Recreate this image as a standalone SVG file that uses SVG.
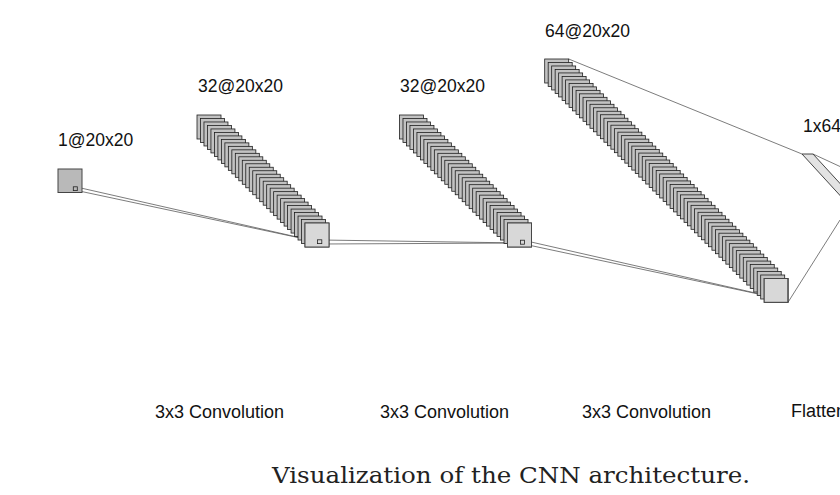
<svg xmlns="http://www.w3.org/2000/svg" width="840" height="495" viewBox="0 0 840 495">
<style>
.fm{fill:#c2c2c2;stroke:#1e1e1e;stroke-width:0.8}
.front{fill:#d8d8d8;stroke:#474747;stroke-width:1}
.inp{fill:#b9b9b9;stroke:#444;stroke-width:1}
.ker{fill:none;stroke:#222;stroke-width:0.8}
.con{fill:none;stroke:#5a5a5a;stroke-width:0.8}
.lbl{font-family:"Liberation Sans",Arial,sans-serif;font-size:17.5px;fill:#111}
.op{font-family:"Liberation Sans",Arial,sans-serif;font-size:18px;fill:#111}
.cap{font-family:"DejaVu Serif","Liberation Serif",serif;font-size:23px;fill:#222}
</style>
<defs>
<rect id="r" width="24" height="24" class="fm"/>
<g id="s2"><use href="#r"/><use href="#r" x="3.4839" y="3.4839"/></g>
<g id="s4"><use href="#s2"/><use href="#s2" x="6.9677" y="6.9677"/></g>
<g id="s8"><use href="#s4"/><use href="#s4" x="13.9355" y="13.9355"/></g>
<g id="s16"><use href="#s8"/><use href="#s8" x="27.871" y="27.871"/></g>
<g id="s32"><use href="#s16"/><use href="#s16" x="55.742" y="55.742"/></g>
<g id="s64"><use href="#s32"/><use href="#s32" x="111.484" y="111.484"/></g>
</defs>
<rect width="840" height="495" fill="#fff"/>
<g id="connectors">
<line class="con" x1="77.3" y1="187.2" x2="319" y2="242"/>
<line class="con" x1="77.3" y1="190.6" x2="319" y2="242"/>
<line class="con" x1="322" y1="240" x2="521" y2="243"/>
<line class="con" x1="322" y1="244" x2="521" y2="243"/>
<line class="con" x1="524.5" y1="240.5" x2="784" y2="299.5"/>
<line class="con" x1="524.5" y1="244.2" x2="784" y2="299.5"/>
<line class="con" x1="568.7" y1="59" x2="802" y2="154"/>
<line class="con" x1="813" y1="154" x2="840" y2="166.5"/>
<line class="con" x1="788" y1="302.3" x2="840" y2="220"/>
</g>
<g id="input">
<rect class="inp" x="58" y="169" width="24" height="23.5"/>
<rect class="ker" x="73.3" y="186.8" width="4" height="3.8"/>
<text class="lbl" x="58" y="146">1@20x20</text>
</g>
<g id="conv1">
<use href="#s32" x="197" y="115"/>
<rect class="front" x="305" y="223" width="24" height="24"/>
<rect class="ker" x="317.5" y="239.8" width="4.3" height="3.8"/>
<text class="lbl" x="198" y="92">32@20x20</text>
<text class="op" x="155" y="418">3x3 Convolution</text>
</g>
<g id="conv2">
<use href="#s32" x="399.5" y="115"/>
<rect class="front" x="507.5" y="223" width="24" height="24"/>
<rect class="ker" x="520.6" y="240.2" width="4" height="4"/>
<text class="lbl" x="400" y="92">32@20x20</text>
<text class="op" x="380" y="418">3x3 Convolution</text>
</g>
<g id="conv3">
<use href="#s64" x="544.7" y="59"/>
<rect class="front" x="764.2" y="278.5" width="23.6" height="23.8"/>
<text class="lbl" x="545" y="37">64@20x20</text>
<text class="op" x="582" y="418">3x3 Convolution</text>
</g>
<g id="flatten">
<polygon points="802,154 813,154 853,197.6 842,197.6" fill="#e3e3e3" stroke="#333" stroke-width="0.9"/>
<text class="lbl" x="803" y="131.5">1x64</text>
<text class="op" x="791" y="417">Flatten</text>
</g>
<text class="cap" x="272" y="483" textLength="478" lengthAdjust="spacingAndGlyphs">Visualization of the CNN architecture.</text>
</svg>
